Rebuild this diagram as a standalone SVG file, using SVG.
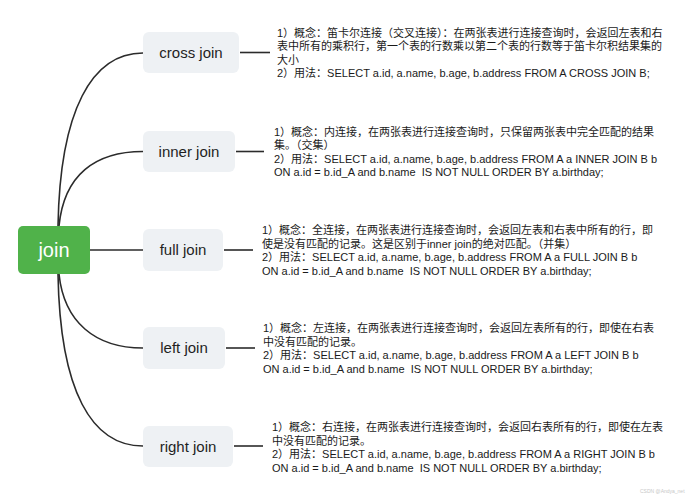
<svg xmlns="http://www.w3.org/2000/svg" width="695" height="500" viewBox="0 0 695 500">
<style>
.bg{fill:#ffffff}
.node rect{fill:#eef1f4}
.node text{font-family:"Liberation Sans","Noto Sans",sans-serif;font-size:15px;fill:#1f1f1f;text-anchor:middle}
.root rect{fill:#50b24a}
.root text{font-family:"Liberation Sans","Noto Sans",sans-serif;font-size:20px;fill:#ffffff;text-anchor:middle}
.conn path{fill:none;stroke:#2b2b2b;stroke-width:1.6}
.desc text{font-family:"Liberation Sans","Noto Sans CJK SC",sans-serif;font-size:11px;fill:#1a1a1a;white-space:pre}
.wm{font-family:"Liberation Sans",sans-serif;font-size:5px;fill:#c8c8c8}
</style>
<rect class="bg" x="0" y="0" width="695" height="500"/>
<g id="connectors" class="conn">
<path d="M58,226 C60,110 92,53 143,53"/>
<path d="M59,226 C64,175 95,151.5 143,151.5"/>
<path d="M90,250 H143"/>
<path d="M59,274 C64,322 95,348 143,348"/>
<path d="M58,274 C60,392 92,446 143,446"/>
<path d="M240,52.5 H270"/>
<path d="M236,151.5 H264"/>
<path d="M224,250 H253"/>
<path d="M226,348 H255"/>
<path d="M234,446 H263"/>
</g>
<g id="root" class="root">
<rect x="18" y="226" width="72" height="48" rx="5"/>
<text x="54" y="257">join</text>
</g>
<g id="cross-join" class="node">
<rect x="143" y="32" width="96" height="41" rx="6"/>
<text x="191" y="58">cross join</text>
</g>
<g id="inner-join" class="node">
<rect x="143" y="131" width="92" height="41" rx="6"/>
<text x="189" y="157">inner join</text>
</g>
<g id="full-join" class="node">
<rect x="143" y="229" width="80" height="42" rx="6"/>
<text x="183" y="255">full join</text>
</g>
<g id="left-join" class="node">
<rect x="143" y="327" width="82" height="42" rx="6"/>
<text x="184" y="353">left join</text>
</g>
<g id="right-join" class="node">
<rect x="143" y="426" width="90" height="41" rx="6"/>
<text x="188" y="451.5">right join</text>
</g>
<g id="cross-join-desc" class="desc">
<text x="277" y="36.5">1）概念：笛卡尔连接（交叉连接）：在两张表进行连接查询时，会返回左表和右</text>
<text x="277" y="50">表中所有的乘积行，第一个表的行数乘以第二个表的行数等于笛卡尔积结果集的</text>
<text x="277" y="63.5">大小</text>
<text x="277" y="77">2）用法：SELECT a.id, a.name, b.age, b.address FROM A CROSS JOIN B;</text>
</g>
<g id="inner-join-desc" class="desc">
<text x="274" y="135.5">1）概念：内连接，在两张表进行连接查询时，只保留两张表中完全匹配的结果</text>
<text x="274" y="149">集。（交集）</text>
<text x="274" y="162.5">2）用法：SELECT a.id, a.name, b.age, b.address FROM A a INNER JOIN B b</text>
<text x="274" y="176">ON a.id = b.id_A and b.name  IS NOT NULL ORDER BY a.birthday;</text>
</g>
<g id="full-join-desc" class="desc">
<text x="262" y="234">1）概念：全连接，在两张表进行连接查询时，会返回左表和右表中所有的行，即</text>
<text x="262" y="247.5">使是没有匹配的记录。这是区别于inner join的绝对匹配。（并集）</text>
<text x="262" y="261">2）用法：SELECT a.id, a.name, b.age, b.address FROM A a FULL JOIN B b</text>
<text x="262" y="274.5">ON a.id = b.id_A and b.name  IS NOT NULL ORDER BY a.birthday;</text>
</g>
<g id="left-join-desc" class="desc">
<text x="263" y="332">1）概念：左连接，在两张表进行连接查询时，会返回左表所有的行，即使在右表</text>
<text x="263" y="345.5">中没有匹配的记录。</text>
<text x="263" y="359">2）用法：SELECT a.id, a.name, b.age, b.address FROM A a LEFT JOIN B b</text>
<text x="263" y="372.5">ON a.id = b.id_A and b.name  IS NOT NULL ORDER BY a.birthday;</text>
</g>
<g id="right-join-desc" class="desc">
<text x="272" y="431">1）概念：右连接，在两张表进行连接查询时，会返回右表所有的行，即使在左表</text>
<text x="272" y="444.5">中没有匹配的记录。</text>
<text x="272" y="458">2）用法：SELECT a.id, a.name, b.age, b.address FROM A a RIGHT JOIN B b</text>
<text x="272" y="471.5">ON a.id = b.id_A and b.name  IS NOT NULL ORDER BY a.birthday;</text>
</g>
<text class="wm" x="640" y="493">CSDN @Andya_net</text>
</svg>
